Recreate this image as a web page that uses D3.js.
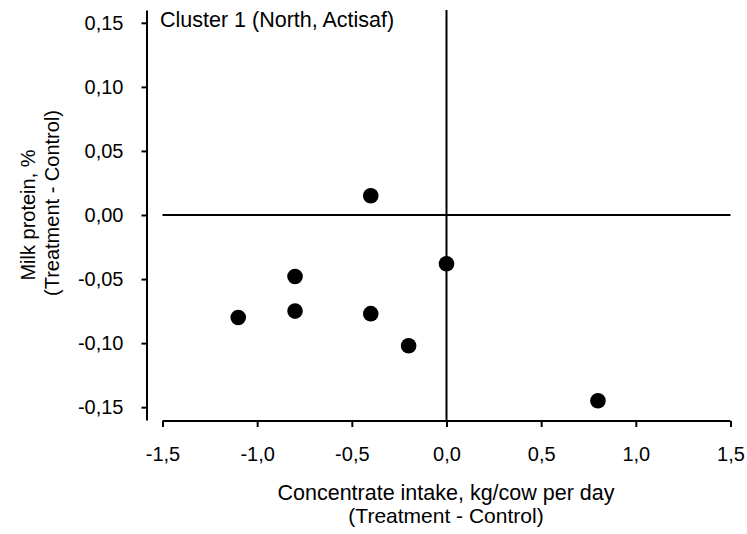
<!DOCTYPE html>
<html>
<head>
<meta charset="utf-8">
<script src="https://cdn.jsdelivr.net/npm/d3@7"></script>
<style>
  body { margin: 0; background: #fff; }
  text { font-family: "Liberation Sans", Arial, sans-serif; fill: #000; }
</style>
</head>
<body>
<div id="chart"></div>
<script>
// concentrate intake difference (kg/cow per day) and milk protein difference (%)
var intake  = [-1.1, -0.8, -0.8, -0.4, -0.4, -0.2, 0.0, 0.8];
var protein = [-0.080, -0.048, -0.075, 0.015, -0.077, -0.102, -0.038, -0.145];
var xTicks = [-1.5, -1.0, -0.5, 0.0, 0.5, 1.0, 1.5];
var yTicks = [-0.15, -0.10, -0.05, 0.00, 0.05, 0.10, 0.15];

const width = 747;
const height = 534;

var svg = d3.select("#chart").append("svg")
  .attr("width", width).attr("height", height);

var locale = d3.formatLocale({decimal: ",", thousands: ".", grouping: [3], currency: ["", ""], minus: "-"});

var x = d3.scaleLinear().domain([-1.5, 1.5]).range([162.5, 730.5]);
var y = d3.scaleLinear().domain([-0.16, 0.16]).range([420, 10]);

// x axis
var xAxis = svg.append("g")
  .attr("transform", "translate(0,421)")
  .call(d3.axisBottom(x).tickValues(xTicks).tickFormat(locale.format(".1f"))
    .tickSize(6).tickSizeOuter(0).tickPadding(20));

// y axis (sits a little left of the x axis start)
var yAxis = svg.append("g")
  .attr("transform", "translate(146.5,0)")
  .call(d3.axisLeft(y).tickValues(yTicks).tickFormat(locale.format(".2f"))
    .tickSize(5).tickSizeOuter(0).tickPadding(18));

[xAxis, yAxis].forEach(function(g) {
  g.selectAll("path, line").attr("stroke", "#000").attr("stroke-width", 2);
  g.selectAll("text").attr("font-size", 20).attr("font-family", "Liberation Sans, Arial, sans-serif");
});
xAxis.select(".domain").attr("d", "M" + x.range()[0] + ",0H" + x.range()[1]);

// zero lines
svg.append("line")
  .attr("x1", x(-1.5)).attr("x2", x(1.5))
  .attr("y1", y(0)).attr("y2", y(0))
  .attr("stroke", "#000").attr("stroke-width", 2);
svg.append("line")
  .attr("x1", x(0)).attr("x2", x(0))
  .attr("y1", y.range()[1]).attr("y2", y.range()[0])
  .attr("stroke", "#000").attr("stroke-width", 2);

// points
svg.selectAll("circle").data(intake).enter().append("circle")
  .attr("cx", function(d) { return x(d); })
  .attr("cy", function(d, i) { return y(protein[i]); })
  .attr("r", 7.8)
  .attr("fill", "#000");

// titles
svg.append("text")
  .attr("x", 160).attr("y", 27)
  .attr("font-size", 21.5)
  .text("Cluster 1 (North, Actisaf)");

svg.append("text")
  .attr("x", 446).attr("y", 500)
  .attr("text-anchor", "middle").attr("font-size", 21.5)
  .text("Concentrate intake, kg/cow per day");
svg.append("text")
  .attr("x", 446).attr("y", 523)
  .attr("text-anchor", "middle").attr("font-size", 21)
  .text("(Treatment - Control)");

svg.append("text")
  .attr("transform", "translate(35,215) rotate(-90)")
  .attr("text-anchor", "middle").attr("font-size", 20)
  .text("Milk protein, %");
svg.append("text")
  .attr("transform", "translate(59,203) rotate(-90)")
  .attr("text-anchor", "middle").attr("font-size", 20)
  .text("(Treatment - Control)");
</script>
</body>
</html>
